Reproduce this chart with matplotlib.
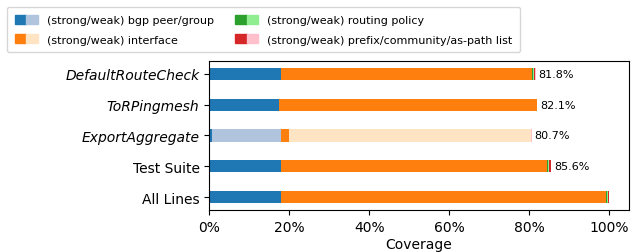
import numpy as np
import matplotlib
matplotlib.use("Agg")
from matplotlib import pyplot as plt
from matplotlib.patches import Rectangle
from matplotlib.legend_handler import HandlerTuple
from matplotlib.ticker import PercentFormatter

# bottom to top
categories = ["All Lines", "Test Suite", "ExportAggregate", "ToRPingmesh", "DefaultRouteCheck"]
italic = [False, False, True, True, True]

# coverage in percent, per segment
strong_bgp    = [17.9, 17.9, 0.7, 17.5, 17.9]
weak_bgp      = [0.0, 0.0, 17.2, 0.0, 0.0]
strong_iface  = [81.3, 66.6, 2.0, 64.4, 62.8]
weak_iface    = [0.0, 0.0, 60.6, 0.0, 0.0]
strong_policy = [0.3, 0.3, 0.0, 0.0, 0.3]
weak_policy   = [0.2, 0.2, 0.0, 0.0, 0.2]
strong_prefix = [0.3, 0.4, 0.0, 0.0, 0.3]
weak_prefix   = [0.0, 0.2, 0.2, 0.2, 0.3]
# total labels (none shown for All Lines)
totals        = [None, 85.6, 80.7, 82.1, 81.8]

legend_labels = ["(strong/weak) bgp peer/group", "(strong/weak) interface",
                 "(strong/weak) routing policy", "(strong/weak) prefix/community/as-path list"]

segments = [strong_bgp, weak_bgp, strong_iface, weak_iface,
            strong_policy, weak_policy, strong_prefix, weak_prefix]
colors = ["#1f77b4", "#b0c4de", "#ff7f0e", "#ffe4c4",
          "#2ca02c", "#90ee90", "#d62728", "#ffc0cb"]

fig = plt.figure(figsize=(6.36, 2.53), dpi=100)
ax = fig.add_axes([0.329, 0.166, 0.66, 0.589])

y = np.arange(len(categories))
left = np.zeros(len(categories))
for vals, c in zip(segments, colors):
    ax.barh(y, vals, height=0.4, left=left, color=c)
    left += np.array(vals)

# total labels at the end of each bar
for yi, t, end in zip(y, totals, left):
    if t is not None:
        ax.text(end + 0.6, yi, "%.1f%%" % t, va="center", ha="left", fontsize=8)

ax.set_xlim(0, 105)
ax.set_yticks(y)
ax.set_yticklabels(categories, fontsize=10)
for lab, it in zip(ax.get_yticklabels(), italic):
    if it:
        lab.set_style("italic")

ax.set_xticks([0, 20, 40, 60, 80, 100])
ax.xaxis.set_major_formatter(PercentFormatter(decimals=0))
ax.tick_params(labelsize=10)
ax.set_xlabel("Coverage", fontsize=10, labelpad=2)

# legend with split strong/weak swatches
handles = []
for i in range(4):
    handles.append((Rectangle((0, 0), 1, 1, color=colors[2 * i]),
                    Rectangle((0, 0), 1, 1, color=colors[2 * i + 1])))
fig.legend(handles, legend_labels, ncol=2, loc="upper left",
           bbox_to_anchor=(0.002, 0.99), fontsize=8, handlelength=2.1,
           handleheight=0.9, labelspacing=0.8, borderpad=0.7,
           handler_map={tuple: HandlerTuple(ndivide=None, pad=0)},
           columnspacing=1.9)

fig.savefig("out.png", dpi=100)
